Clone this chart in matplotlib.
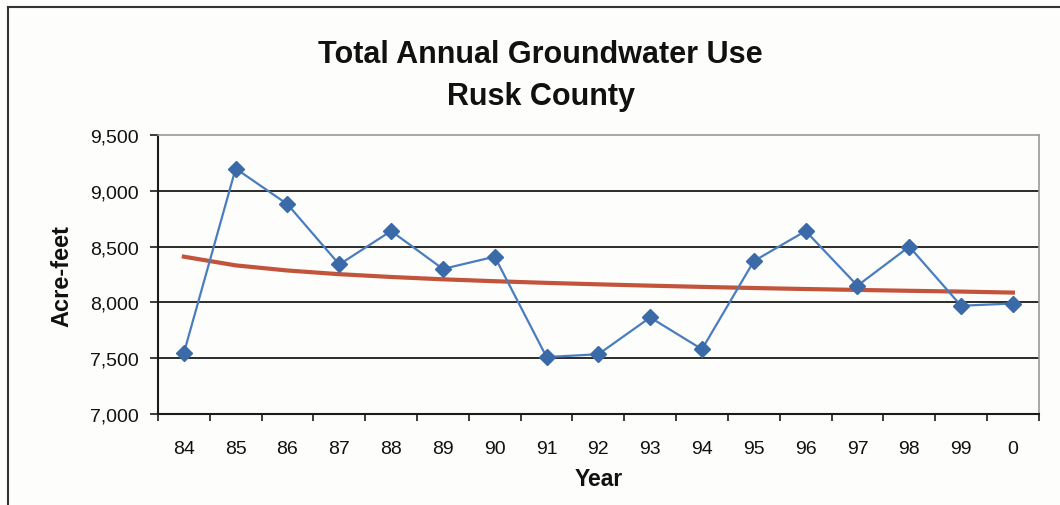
"total annual groundwater use - rusk county"
import numpy as np
import matplotlib.pyplot as plt

plt.rcParams['font.family'] = ['Liberation Sans', 'DejaVu Sans']

"data"
years = ['84', '85', '86', '87', '88', '89', '90', '91', '92',
         '93', '94', '95', '96', '97', '98', '99', '0']
use_af = [7545, 9200, 8880, 8340, 8640, 8300, 8410, 7510, 7535,
          7865, 7580, 8370, 8640, 8150, 8500, 7970, 7990]
# trend line as shown on the chart
trend_af = [8410, 8332, 8286, 8253, 8228, 8207, 8190, 8175, 8162,
            8150, 8139, 8129, 8120, 8112, 8104, 8097, 8088]
yticks = [7000, 7500, 8000, 8500, 9000, 9500]

x = np.arange(len(years))

fig = plt.figure(figsize=(10.6, 5.06), dpi=100, facecolor='#fdfdfb')
ax = fig.add_axes([0.149, 0.180, 0.831, 0.551], facecolor='#fdfdfb')

# outer chart frame (top and left edges)
fig.add_artist(plt.Line2D([0.008, 1.0], [0.984, 0.984], color='#333333', lw=1.5))
fig.add_artist(plt.Line2D([0.008, 0.008], [0.0, 0.984], color='#333333', lw=1.5))

for v in yticks[1:-1]:
    ax.axhline(v, color='#1a1a1a', lw=1.3, zorder=1)

ax.plot(x, trend_af, color='#c2543c', lw=3, zorder=2)
ax.plot(x, use_af, color='#4a7dbf', lw=1.6, marker='D', markersize=8.5,
        markerfacecolor='#3b6aa8', markeredgecolor='#3b6aa8', zorder=3)

ax.set_xlim(-0.5, len(years) - 0.5)
ax.set_ylim(7000, 9500)
ax.set_yticks(yticks)
ax.set_yticklabels([f'{v:,}' for v in yticks])
ax.set_xticks(x)
ax.set_xticklabels(years)
ax.set_xticks(np.arange(len(years) + 1) - 0.5, minor=True)
ax.tick_params(axis='x', which='major', length=0, pad=19, labelsize=14, colors='#111111')
ax.tick_params(axis='x', which='minor', length=5, width=1.2, color='#1a1a1a')
ax.tick_params(axis='y', length=6, width=1.2, color='#1a1a1a', labelsize=14,
               labelcolor='#111111', pad=8)

for side in ['left', 'bottom']:
    ax.spines[side].set_color('#1a1a1a')
    ax.spines[side].set_linewidth(1.5)
for side in ['top', 'right']:
    ax.spines[side].set_color('#9a9a9a')
    ax.spines[side].set_linewidth(1.2)

ax.set_xlabel('Year', fontsize=16.5, fontweight='bold', labelpad=7, color='#111111')
ax.set_ylabel('Acre-feet', fontsize=17, fontweight='bold', labelpad=12, color='#111111')

fig.text(0.51, 0.892, 'Total Annual Groundwater Use', ha='center', va='center',
         fontsize=22, fontweight='bold', color='#111111')
fig.text(0.51, 0.808, 'Rusk County', ha='center', va='center',
         fontsize=22, fontweight='bold', color='#111111')

fig.savefig('out.png', dpi=100, facecolor=fig.get_facecolor())
